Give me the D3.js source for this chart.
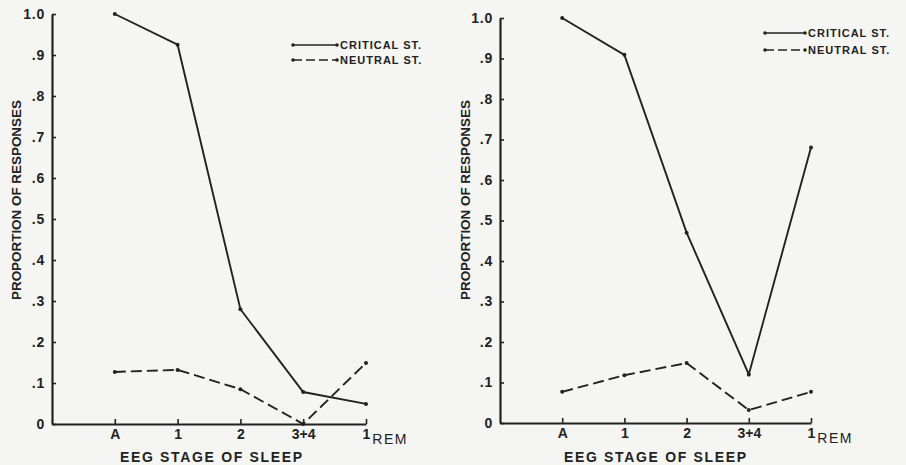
<!DOCTYPE html>
<html><head><meta charset="utf-8">
<script src="https://cdn.jsdelivr.net/npm/d3@7"></script>
<style>
html,body{margin:0;padding:0;background:#f5f5f3;}
svg{display:block;}
text{font-family:"Liberation Sans",Arial,sans-serif;fill:#222;}
</style></head>
<body>
<svg id="chart" width="906" height="465"></svg>
<script>
// ---- data ----
const stages = ["A", "1", "2", "3+4", "1REM"];
const yTicks = [0, 0.1, 0.2, 0.3, 0.4, 0.5, 0.6, 0.7, 0.8, 0.9, 1.0];
const yTickLabels = ["0", ".1", ".2", ".3", ".4", ".5", ".6", ".7", ".8", ".9", "1.0"];
const leftCritical = [1.0, 0.925, 0.28, 0.078, 0.049];
const leftNeutral  = [0.127, 0.132, 0.085, 0.0, 0.149];
const rightCritical = [1.0, 0.909, 0.47, 0.12, 0.68];
const rightNeutral  = [0.077, 0.118, 0.148, 0.032, 0.077];
const seriesNames = ["CRITICAL ST.", "NEUTRAL ST."];
const yTitle = "PROPORTION OF RESPONSES";
const xTitle = "EEG STAGE OF SLEEP";

const svg = d3.select("#chart");
const ink = "#222";
const font = "'Liberation Sans',Arial,sans-serif";

const panels = [
  {x0: 52, x1: 366, yTop: 14, yBot: 424, crit: leftCritical, neut: leftNeutral,
   legX: 293, legLen: 44, legY: 45, legGap: 15, titleX: 16, titleY: 200, xTitleX: 211},
  {x0: 500, x1: 811, yTop: 18, yBot: 423, crit: rightCritical, neut: rightNeutral,
   legX: 765, legLen: 40, legY: 33, legGap: 17, titleX: 465, titleY: 200, xTitleX: 655}
];

panels.forEach(p => {
  const g = svg.append("g");
  const x = d3.scaleLinear().domain([-1, 4]).range([p.x0, p.x1]);
  const y = d3.scaleLinear().domain([0, 1]).range([p.yBot, p.yTop]);

  // y axis
  const ya = g.append("g").attr("transform", `translate(${p.x0},0)`)
    .call(d3.axisLeft(y).tickValues(yTicks)
      .tickFormat((d, i) => yTickLabels[i]).tickSizeInner(-4).tickSizeOuter(0).tickPadding(7));
  ya.attr("font-size", null).attr("font-family", null);
  ya.select(".domain").attr("stroke", ink).attr("stroke-width", 2.2);
  ya.selectAll(".tick line").attr("stroke", ink).attr("stroke-width", 1.6);
  ya.selectAll(".tick text").style("font-size", "14px").style("font-weight", "bold")
    .style("font-family", font).attr("letter-spacing", 0.8).attr("fill", ink);

  // x axis
  const xa = g.append("g").attr("transform", `translate(0,${p.yBot})`)
    .call(d3.axisBottom(x).tickValues([0, 1, 2, 3, 4])
      .tickFormat((d, i) => stages[i]).tickSizeInner(-5).tickSizeOuter(0).tickPadding(5));
  xa.attr("font-size", null).attr("font-family", null);
  xa.select(".domain").attr("stroke", ink).attr("stroke-width", 2.2);
  xa.selectAll(".tick line").attr("stroke", ink).attr("stroke-width", 1.6);
  xa.selectAll(".tick text").style("font-size", "14px").style("font-weight", "bold")
    .style("font-family", font).attr("fill", ink);
  // subscript REM
  xa.selectAll(".tick text").filter((d, i) => stages[i] === "1REM").each(function () {
    const t = d3.select(this);
    t.text(null).attr("text-anchor", "start").attr("dx", "-4");
    t.append("tspan").text("1");
    t.append("tspan").text("REM").attr("dy", "5").style("font-weight", "normal")
      .style("font-size", "14px").attr("letter-spacing", 1.5).attr("dx", 2);
  });

  // axis titles
  g.append("text").attr("transform", `translate(${p.titleX},${p.titleY}) rotate(-90)`)
    .attr("text-anchor", "middle").attr("dy", "0.35em").style("font-size", "13.5px")
    .style("font-weight", "bold").attr("textLength", 200).attr("lengthAdjust", "spacing")
    .text(yTitle);
  g.append("text").attr("x", p.xTitleX).attr("y", 462).attr("text-anchor", "middle")
    .style("font-size", "14px").style("font-weight", "bold").attr("textLength", 182)
    .attr("lengthAdjust", "spacing").text(xTitle);

  // lines
  const line = d3.line().x((d, i) => x(i)).y(d => y(d));
  const series = [{vals: p.crit, dash: null}, {vals: p.neut, dash: "11,5"}];
  series.forEach(s => {
    g.append("path").datum(s.vals).attr("d", line).attr("fill", "none")
      .attr("stroke", ink).attr("stroke-width", 1.9)
      .attr("stroke-dasharray", s.dash);
    g.selectAll(null).data(s.vals).enter().append("circle")
      .attr("cx", (d, i) => x(i)).attr("cy", d => y(d)).attr("r", 2).attr("fill", ink);
  });

  // legend
  seriesNames.forEach((name, k) => {
    const ly = p.legY + k * p.legGap;
    g.append("line").attr("x1", p.legX).attr("x2", p.legX + p.legLen)
      .attr("y1", ly).attr("y2", ly).attr("stroke", ink).attr("stroke-width", 1.7)
      .attr("stroke-dasharray", k === 1 ? "9,4" : null);
    [p.legX, p.legX + p.legLen].forEach(cx =>
      g.append("circle").attr("cx", cx).attr("cy", ly).attr("r", 1.8).attr("fill", ink));
    g.append("text").attr("x", p.legX + p.legLen + 3).attr("y", ly + 4)
      .style("font-size", "11px").style("font-weight", "bold").attr("letter-spacing", 1)
      .text(name);
  });
});
</script>
</body></html>
